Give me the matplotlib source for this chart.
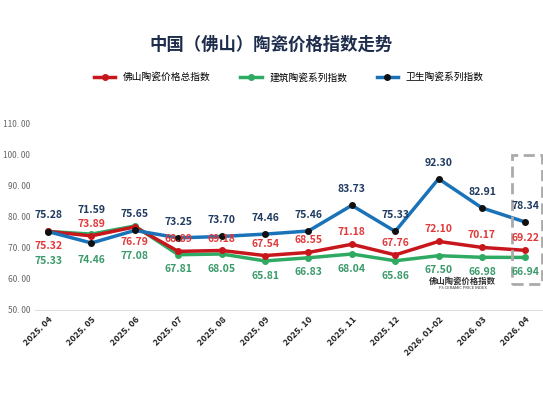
import matplotlib
matplotlib.use("Agg")
import matplotlib.pyplot as plt
from matplotlib.patches import Rectangle

plt.rcParams['font.family'] = ['Noto Sans CJK SC', 'DejaVu Sans']

months = ["2025.04","2025.05","2025.06","2025.07","2025.08","2025.09","2025.10",
          "2025.11","2025.12","2026.01-02","2026.03","2026.04"]
total = [75.32,73.89,76.79,68.89,69.18,67.54,68.55,71.18,67.76,72.10,70.17,69.22]
build = [75.33,74.46,77.08,67.81,68.05,65.81,66.83,68.04,65.86,67.50,66.98,66.94]
sanit = [75.28,71.59,75.65,73.25,73.70,74.46,75.46,83.73,75.33,92.30,82.91,78.34]
yticks = [50,60,70,80,90,100,110]
red_below = [0, 2]

RED, GRN, BLU = "#c8161d", "#2eaa63", "#1a73b8"
fig = plt.figure(figsize=(5.43, 4.2), dpi=100)
fig.text(0.5, 0.893, "中国（佛山）陶瓷价格指数走势", ha="center", va="center",
         fontsize=12.5, fontweight="bold", color="#1f2d4d")
ax = fig.add_axes([0.0645, 0.262, 0.935, 0.443])
x = list(range(len(months)))
ax.plot(x, total, color=RED, lw=2.5, marker="o", ms=4, mfc=RED, mec=RED, label="佛山陶瓷价格总指数", zorder=3)
ax.plot(x, build, color=GRN, lw=2.5, marker="o", ms=4, mfc=GRN, mec=GRN, label="建筑陶瓷系列指数", zorder=2)
ax.plot(x, sanit, color=BLU, lw=2.5, marker="o", ms=4, mfc="#111111", mec="#111111", label="卫生陶瓷系列指数", zorder=4)

fs = 7.5
for i in x:
    soff = 20 if i == 1 else 8
    ax.annotate(f"{sanit[i]:.2f}", (i, sanit[i]), xytext=(0, soff), textcoords="offset points",
                ha="center", va="bottom", fontsize=fs, fontweight="bold", color="#1f3a5f", zorder=6)
    off = -7 if i in red_below else 5
    ax.annotate(f"{total[i]:.2f}", (i, total[i]), xytext=(0, off), textcoords="offset points",
                ha="center", va="top" if off < 0 else "bottom", fontsize=fs, fontweight="bold",
                color="#e03a3a", zorder=6)
    boff = -18 if i in red_below else -7
    if i == 1: boff = -15
    ax.annotate(f"{build[i]:.2f}", (i, build[i]), xytext=(0, boff), textcoords="offset points",
                ha="center", va="top", fontsize=fs, fontweight="bold", color="#3a9a6a", zorder=6)

ax.set_xlim(-0.3, 11.4)
ax.set_ylim(50, 110)
ax.set_yticks(yticks)
ax.set_yticklabels([f"{v:.2f}".replace(".", ". ") for v in yticks], fontsize=6, color="#666666")
ax.set_xticks(x)
ax.set_xticklabels([m.replace(".", ". ") for m in months], rotation=45, ha="right",
                   rotation_mode="anchor", fontsize=6.5, fontweight="bold", color="#222222")
for s in ["top", "right", "left"]:
    ax.spines[s].set_visible(False)
ax.spines["bottom"].set_color("#dddddd")
ax.tick_params(length=0)

ax.add_patch(Rectangle((10.7, 58.5), 0.68, 41.5, fill=False, ls=(0, (4, 2)), lw=2,
                       ec="#aaaaaa", clip_on=False, zorder=5))
ax.text(9.55, 58.3, "佛山陶瓷价格指数", fontsize=6, fontweight="bold", color="#333333", ha="center")
ax.text(9.55, 56.6, "FS CERAMIC PRICE INDEX", fontsize=3, color="#333333", ha="center")

ax.legend(loc="center", bbox_to_anchor=(0.5, 1.25), ncol=3, frameon=False, fontsize=7,
          handlelength=2.2, columnspacing=3)
fig.savefig("out.png", dpi=100)
